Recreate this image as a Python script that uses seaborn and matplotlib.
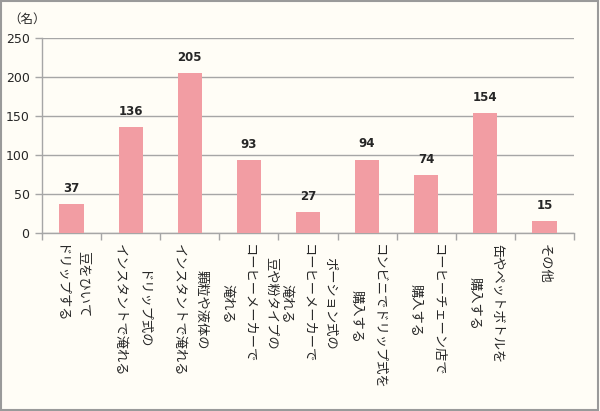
import matplotlib
matplotlib.use("Agg")
import matplotlib.pyplot as plt
import seaborn as sns
import pandas as pd
from matplotlib.patches import Rectangle

categories = [
    "豆をひいて\nドリップする",
    "ドリップ式の\nインスタントで淹れる",
    "顆粒や液体の\nインスタントで淹れる",
    "豆や粉タイプの\nコーヒーメーカーで\n淹れる",
    "ポーション式の\nコーヒーメーカーで\n淹れる",
    "コンビニでドリップ式を\n購入する",
    "コーヒーチェーン店で\n購入する",
    "缶やペットボトルを\n購入する",
    "その他",
]
values = [37, 136, 205, 93, 27, 94, 74, 154, 15]
yticks = [0, 50, 100, 150, 200, 250]
unit_label = "（名）"

sns.set_theme(style="white")
plt.rcParams['font.family'] = ['Noto Sans CJK JP', 'DejaVu Sans']

bg = "#FFFDF6"
fig = plt.figure(figsize=(6.0, 4.11), dpi=100, facecolor=bg)
ax = fig.add_axes([42/600, 1-233/411, (574-42)/600, (233-38)/411])
ax.set_facecolor(bg)

df = pd.DataFrame({"cat": categories, "val": values})
sns.barplot(data=df, x="cat", y="val", color="#F29DA3", saturation=1,
            width=0.41, ax=ax, zorder=3, edgecolor="none")

ax.set_ylim(0, 250)
ax.set_xlim(-0.5, len(categories) - 0.5)
ax.set_yticks(yticks)
ax.set_yticklabels([str(t) for t in yticks], fontsize=9, family=['DejaVu Sans'])
ax.yaxis.grid(True, color="#A6A6A6", linewidth=1.0, zorder=0)
ax.set_axisbelow(True)
ax.set_xlabel("")
ax.set_ylabel("")

for s in ["top", "right"]:
    ax.spines[s].set_visible(False)
for s in ["left", "bottom"]:
    ax.spines[s].set_color("#A6A6A6")
    ax.spines[s].set_linewidth(1.0)

ax.tick_params(axis="y", length=5, color="#A6A6A6", width=1, pad=4, left=True)
ax.set_xticks([i - 0.5 for i in range(len(categories) + 1)], minor=False)
ax.set_xticklabels([])
ax.tick_params(axis="x", length=5, color="#A6A6A6", width=1, bottom=True)

for i, (c, v) in enumerate(zip(categories, values)):
    ax.text(i, v + 12, str(v), ha="center", va="bottom", fontsize=8.5,
            fontweight="bold", family=['DejaVu Sans'])
    ax.text(i, -14, c, rotation=-90, ha="center", va="top",
            multialignment="center", fontsize=9.5, linespacing=1.9,
            transform=ax.transData, clip_on=False)

fig.text(8/600, 1-19/411, unit_label, fontsize=9, ha="left", va="center")

fig.patches.append(Rectangle((0.002, 0.003), 0.994, 0.994, transform=fig.transFigure,
                             fill=False, edgecolor="#9A9A9A", linewidth=1.5))

fig.savefig("out.png", dpi=100, facecolor=bg)
